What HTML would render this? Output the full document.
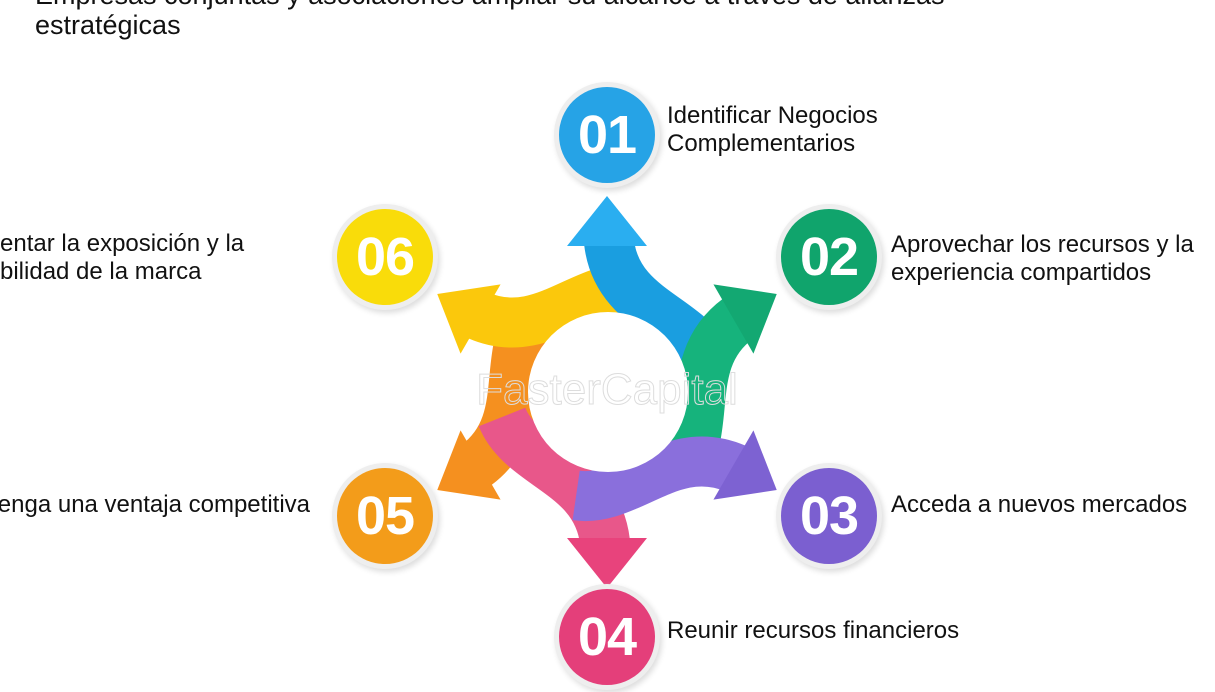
<!DOCTYPE html>
<html><head><meta charset="utf-8"><style>
body{margin:0;width:1215px;height:692px;background:#fff;position:relative;overflow:hidden;font-family:"Liberation Sans",sans-serif}
.t{position:absolute;left:35px;font-size:27px;color:#111;white-space:nowrap}
.c{position:absolute;width:96px;height:96px;border-radius:50%;color:#fff;font-weight:bold;font-size:54px;display:flex;align-items:center;justify-content:center;box-shadow:0 0 0 5px #eee,2px 3px 6px 5px #ddd;letter-spacing:-1px}
.l{position:absolute;font-size:24px;line-height:28px;color:#111;white-space:nowrap}
</style></head><body>
<div class="t" style="top:-20px">Empresas conjuntas y asociaciones ampliar su alcance a través de alianzas</div>
<div class="t" style="top:10px">estratégicas</div>
<svg width="1215" height="692" style="position:absolute;left:0;top:0">
<g transform="translate(607,392)">
<g transform="rotate(240)"><path d="M105 -25 C85 -75 10 -80 2 -150" fill="none" stroke="#f5901f" stroke-width="50"/><polygon points="-40,-146 0,-196 40,-146" fill="#f5901f"/></g>
<g transform="rotate(180)"><path d="M105 -25 C85 -75 10 -80 2 -150" fill="none" stroke="#e8578a" stroke-width="50"/><polygon points="-40,-146 0,-196 40,-146" fill="#e8437c"/></g>
<g transform="rotate(300)"><path d="M105 -25 C85 -75 10 -80 2 -150" fill="none" stroke="#fbc80c" stroke-width="50"/><polygon points="-40,-146 0,-196 40,-146" fill="#fbc80c"/></g>
<g transform="rotate(0)"><path d="M105 -25 C85 -75 10 -80 2 -150" fill="none" stroke="#1a9ee0" stroke-width="50"/><polygon points="-40,-146 0,-196 40,-146" fill="#2aaef0"/></g>
<g transform="rotate(60)"><path d="M105 -25 C85 -75 10 -80 2 -150" fill="none" stroke="#16b37c" stroke-width="50"/><polygon points="-40,-146 0,-196 40,-146" fill="#13a872"/></g>
<g transform="rotate(120)"><path d="M105 -25 C85 -75 10 -80 2 -150" fill="none" stroke="#8a6fdc" stroke-width="50"/><polygon points="-40,-146 0,-196 40,-146" fill="#7d62d2"/></g>
<circle cx="1" cy="0" r="80" fill="#fff"/>
<text x="0" y="12" font-size="44" text-anchor="middle" fill="none" stroke="#ddd" stroke-width="1" font-family="Liberation Sans">FasterCapital</text>
</g>
</svg>
<div class="c" style="left:559px;top:87px;background:#26a3e6">01</div>
<div class="c" style="left:781px;top:209px;background:#10a46c">02</div>
<div class="c" style="left:781px;top:468px;background:#7b5fd0">03</div>
<div class="c" style="left:559px;top:589px;background:#e43f7a">04</div>
<div class="c" style="left:337px;top:468px;background:#f39c1a">05</div>
<div class="c" style="left:337px;top:209px;background:#f9dc0a">06</div>
<div class="l" style="left:667px;top:102px">Identificar Negocios<br>Complementarios</div>
<div class="l" style="left:891px;top:231px">Aprovechar los recursos y la<br>experiencia compartidos</div>
<div class="l" style="left:891px;top:491px">Acceda a nuevos mercados</div>
<div class="l" style="left:667px;top:617px">Reunir recursos financieros</div>
<div class="l" style="right:905px;top:491px">enga una ventaja competitiva</div>
<div class="l" style="left:0px;top:230px">entar la exposición y la<br>bilidad de la marca</div>
</body></html>
